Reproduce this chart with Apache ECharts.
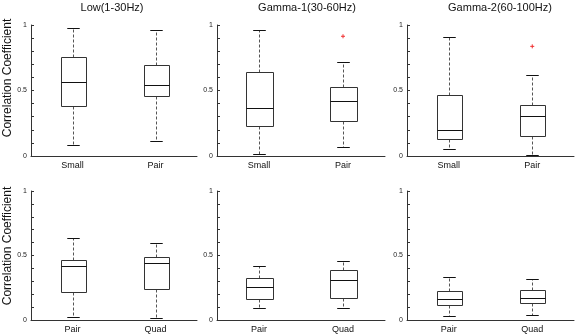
<!DOCTYPE html>
<html>
<head>
<meta charset="utf-8">
<script src="https://cdn.jsdelivr.net/npm/echarts@6/dist/echarts.min.js"></script>
<style>
  html, body { margin: 0; padding: 0; background: #fff; }
  #main { width: 575px; height: 334px; }
</style>
</head>
<body>
<div id="main"></div>
<script>
// titles + categories
var panelTitles = ['Low(1-30Hz)', 'Gamma-1(30-60Hz)', 'Gamma-2(60-100Hz)'];
var topCategories = ['Small', 'Pair'];
var bottomCategories = ['Pair', 'Quad'];
var yTickLabels = ['0', '0.5', '1'];

// box stats: [min, q1, median, q3, max], one row per category
var lowTop = [[0.086, 0.382, 0.562, 0.753, 0.975], [0.112, 0.458, 0.544, 0.695, 0.962]];
var gamma1Top = [[0.017, 0.227, 0.363, 0.638, 0.96], [0.069, 0.266, 0.419, 0.523, 0.715]];
var gamma2Top = [[0.056, 0.127, 0.196, 0.463, 0.908], [0.004, 0.155, 0.305, 0.387, 0.621]];
var lowBottom = [[0.02, 0.219, 0.421, 0.464, 0.638], [0.012, 0.242, 0.439, 0.485, 0.6]];
var gamma1Bottom = [[0.094, 0.165, 0.259, 0.327, 0.419], [0.091, 0.167, 0.31, 0.386, 0.457]];
var gamma2Bottom = [[0.033, 0.117, 0.16, 0.223, 0.33], [0.038, 0.129, 0.167, 0.233, 0.319]];

// outliers: [category index, value]
var gamma1TopOutliers = [[1, 0.914]];
var gamma2TopOutliers = [[1, 0.837]];

var panels = [
  { stats: lowTop, outliers: [], cats: topCategories },
  { stats: gamma1Top, outliers: gamma1TopOutliers, cats: topCategories },
  { stats: gamma2Top, outliers: gamma2TopOutliers, cats: topCategories },
  { stats: lowBottom, outliers: [], cats: bottomCategories },
  { stats: gamma1Bottom, outliers: [], cats: bottomCategories },
  { stats: gamma2Bottom, outliers: [], cats: bottomCategories }
];

var colLeft = [31, 217, 407];
var colWidth = [166, 168, 167];
var rowTop = [25, 191];
var FONT = '"Liberation Sans", Arial, Helvetica, sans-serif';

function px(v) { return Math.round(v) + 0.5; }

function renderBox(params, api) {
  var c = api.value(0);
  var pMin = api.coord([c, api.value(1)]);
  var pQ1 = api.coord([c, api.value(2)]);
  var pMed = api.coord([c, api.value(3)]);
  var pQ3 = api.coord([c, api.value(4)]);
  var pMax = api.coord([c, api.value(5)]);
  var bw = api.size([1, 0])[0] * 0.31;
  var cw = api.size([1, 0])[0] * 0.15;
  var x = px(pMed[0]);
  var edge = { stroke: '#333', lineWidth: 1, fill: null };
  var dash = { stroke: '#555', lineWidth: 1, lineDash: [3, 2] };
  var l = px(x - bw / 2), r = px(x + bw / 2);
  return {
    type: 'group',
    children: [
      { type: 'line', shape: { x1: x, y1: px(pQ3[1]), x2: x, y2: px(pMax[1]) }, style: dash },
      { type: 'line', shape: { x1: x, y1: px(pQ1[1]), x2: x, y2: px(pMin[1]) }, style: dash },
      { type: 'line', shape: { x1: x - cw / 2, y1: px(pMax[1]), x2: x + cw / 2, y2: px(pMax[1]) }, style: { stroke: '#111', lineWidth: 1 } },
      { type: 'line', shape: { x1: x - cw / 2, y1: px(pMin[1]), x2: x + cw / 2, y2: px(pMin[1]) }, style: { stroke: '#111', lineWidth: 1 } },
      { type: 'rect', shape: { x: l, y: px(pQ3[1]), width: r - l, height: px(pQ1[1]) - px(pQ3[1]) }, style: edge },
      { type: 'line', shape: { x1: l, y1: px(pMed[1]), x2: r, y2: px(pMed[1]) }, style: { stroke: '#111', lineWidth: 1 } }
    ]
  };
}

function renderOutlier(params, api) {
  var p = api.coord([api.value(0), api.value(1)]);
  var s = 2;
  var st = { stroke: '#f03030', lineWidth: 1 };
  return {
    type: 'group',
    children: [
      { type: 'line', shape: { x1: p[0] - s, y1: p[1], x2: p[0] + s, y2: p[1] }, style: st },
      { type: 'line', shape: { x1: p[0], y1: p[1] - s, x2: p[0], y2: p[1] + s }, style: st }
    ]
  };
}

var grids = [], xAxes = [], yAxes = [], series = [];
panels.forEach(function (pn, i) {
  var row = Math.floor(i / 3), col = i % 3;
  grids.push({ left: colLeft[col], top: rowTop[row], width: colWidth[col], height: 131 });
  xAxes.push({
    type: 'category', gridIndex: i, data: pn.cats, boundaryGap: true,
    axisLine: { lineStyle: { color: '#333', width: 1 } },
    axisTick: { alignWithLabel: true, inside: true, length: 3, lineStyle: { color: '#333' } },
    axisLabel: { margin: 5, fontSize: 9, color: '#111', fontFamily: FONT },
    splitLine: { show: false }
  });
  yAxes.push({
    type: 'value', gridIndex: i, min: 0, max: 1, interval: 0.1,
    axisLine: { show: true, lineStyle: { color: '#333', width: 1 } },
    axisTick: { show: true, inside: true, length: 3, lineStyle: { color: '#333' } },
    axisLabel: {
      margin: 4, fontSize: 7, color: '#222', fontFamily: FONT,
      formatter: function (v) {
        var k = Math.round(v * 10);
        return k % 5 === 0 ? yTickLabels[k / 5] : '';
      }
    },
    splitLine: { show: false }
  });
  series.push({
    type: 'custom', xAxisIndex: i, yAxisIndex: i,
    renderItem: renderBox,
    encode: { x: 0, y: [1, 2, 3, 4, 5] },
    data: pn.stats.map(function (s, k) { return [k].concat(s); }),
    silent: true
  });
  if (pn.outliers.length) {
    series.push({
      type: 'custom', xAxisIndex: i, yAxisIndex: i,
      renderItem: renderOutlier,
      encode: { x: 0, y: 1 },
      data: pn.outliers,
      silent: true
    });
  }
});

var titleX = [112, 307, 500];
var graphics = panelTitles.map(function (t, k) {
  return {
    type: 'text', x: titleX[k], y: 8,
    style: { text: t, align: 'center', verticalAlign: 'middle', fontSize: 11, fontFamily: FONT, fill: '#111' }
  };
});
[78, 246].forEach(function (cy) {
  graphics.push({
    type: 'text', x: 8, y: cy, rotation: Math.PI / 2,
    style: { text: 'Correlation Coefficient', align: 'center', verticalAlign: 'middle', fontSize: 12, fontFamily: FONT, fill: '#111' }
  });
});

var chart = echarts.init(document.getElementById('main'), null, { renderer: 'canvas' });
chart.setOption({
  animation: false,
  backgroundColor: '#fff',
  grid: grids,
  xAxis: xAxes,
  yAxis: yAxes,
  series: series,
  graphic: graphics
});
</script>
</body>
</html>
